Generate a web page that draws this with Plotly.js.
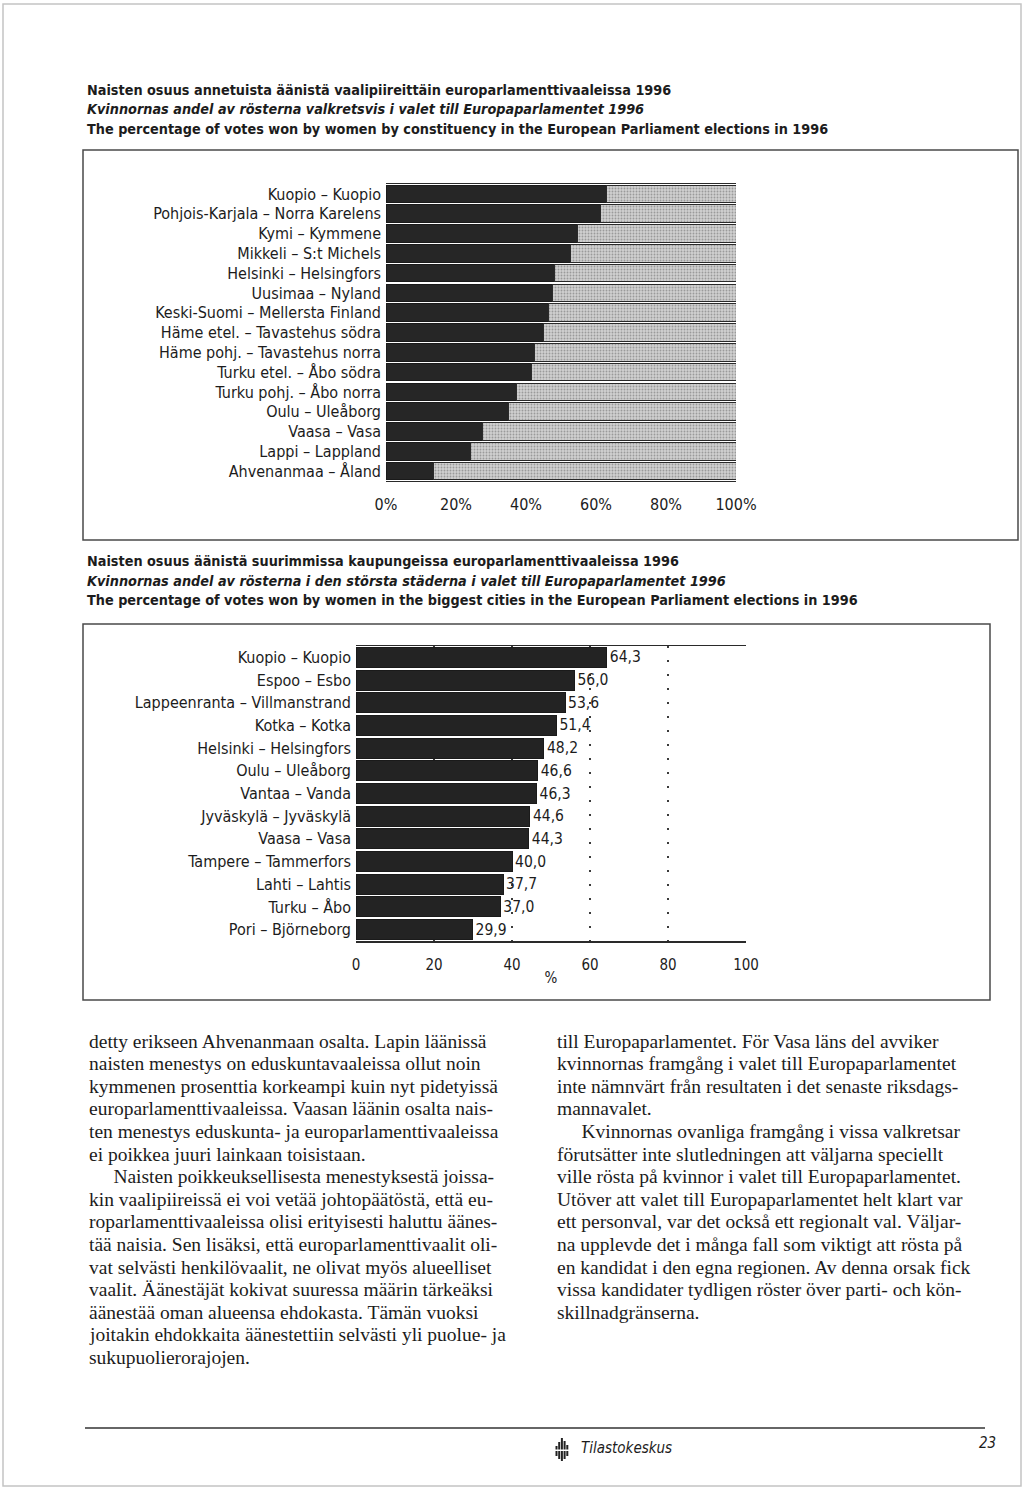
<!DOCTYPE html>
<html>
<head>
<meta charset="utf-8">
<script src="https://cdn.plot.ly/plotly-3.0.1.min.js"></script>
<style>
  html, body { margin: 0; padding: 0; background: #ffffff; }
  #chart { width: 1024px; height: 1489px; }
</style>
</head>
<body>
<div id="chart"></div>
<script>
// ---------------- DATA ----------------
const constituencies = [
  "Kuopio – Kuopio",
  "Pohjois-Karjala – Norra Karelens",
  "Kymi – Kymmene",
  "Mikkeli – S:t Michels",
  "Helsinki – Helsingfors",
  "Uusimaa – Nyland",
  "Keski-Suomi – Mellersta Finland",
  "Häme etel. – Tavastehus södra",
  "Häme pohj. – Tavastehus norra",
  "Turku etel. – Åbo södra",
  "Turku pohj. – Åbo norra",
  "Oulu – Uleåborg",
  "Vaasa – Vasa",
  "Lappi – Lappland",
  "Ahvenanmaa – Åland"
];
const constituencyShare = [62.9, 61.3, 54.8, 52.8, 48.2, 47.7, 46.4, 45.0, 42.4, 41.7, 37.2, 34.9, 27.6, 24.0, 13.6];
const totalShare = 100;

const cities = [
  "Kuopio – Kuopio",
  "Espoo – Esbo",
  "Lappeenranta – Villmanstrand",
  "Kotka – Kotka",
  "Helsinki – Helsingfors",
  "Oulu – Uleåborg",
  "Vantaa – Vanda",
  "Jyväskylä – Jyväskylä",
  "Vaasa – Vasa",
  "Tampere – Tammerfors",
  "Lahti – Lahtis",
  "Turku – Åbo",
  "Pori – Björneborg"
];
const cityShare = [64.3, 56.0, 53.6, 51.4, 48.2, 46.6, 46.3, 44.6, 44.3, 40.0, 37.7, 37.0, 29.9];

const pctTicks = [0, 20, 40, 60, 80, 100];
const pctTickText = ["0%", "20%", "40%", "60%", "80%", "100%"];
const numTickText = ["0", "20", "40", "60", "80", "100"];

const title1 = [
  "Naisten osuus annetuista äänistä vaalipiireittäin europarlamenttivaaleissa 1996",
  "Kvinnornas andel av rösterna valkretsvis i valet till Europaparlamentet 1996",
  "The percentage of votes won by women by constituency in the European Parliament elections in 1996"
];
const title2 = [
  "Naisten osuus äänistä suurimmissa kaupungeissa europarlamenttivaaleissa 1996",
  "Kvinnornas andel av rösterna i den största städerna i valet till Europaparlamentet 1996",
  "The percentage of votes won by women in the biggest cities in the European Parliament elections in 1996"
];

const leftColumn = [
  "detty erikseen Ahvenanmaan osalta. Lapin läänissä",
  "naisten menestys on eduskuntavaaleissa ollut noin",
  "kymmenen prosenttia korkeampi kuin nyt pidetyissä",
  "europarlamenttivaaleissa. Vaasan läänin osalta nais-",
  "ten menestys eduskunta- ja europarlamenttivaaleissa",
  "ei poikkea juuri lainkaan toisistaan.",
  "\u00a0\u00a0\u00a0\u00a0\u00a0Naisten poikkeuksellisesta menestyksestä joissa-",
  "kin vaalipiireissä ei voi vetää johtopäätöstä, että eu-",
  "roparlamenttivaaleissa olisi erityisesti haluttu äänes-",
  "tää naisia. Sen lisäksi, että europarlamenttivaalit oli-",
  "vat selvästi henkilövaalit, ne olivat myös alueelliset",
  "vaalit. Äänestäjät kokivat suuressa määrin tärkeäksi",
  "äänestää oman alueensa ehdokasta. Tämän vuoksi",
  "joitakin ehdokkaita äänestettiin selvästi yli puolue- ja",
  "sukupuolierorajojen."
];
const rightColumn = [
  "till Europaparlamentet. För Vasa läns del avviker",
  "kvinnornas framgång i valet till Europaparlamentet",
  "inte nämnvärt från resultaten i det senaste riksdags-",
  "mannavalet.",
  "\u00a0\u00a0\u00a0\u00a0\u00a0Kvinnornas ovanliga framgång i vissa valkretsar",
  "förutsätter inte slutledningen att väljarna speciellt",
  "ville rösta på kvinnor i valet till Europaparlamentet.",
  "Utöver att valet till Europaparlamentet helt klart var",
  "ett personval, var det också ett regionalt val. Väljar-",
  "na upplevde det i många fall som viktigt att rösta på",
  "en kandidat i den egna regionen. Av denna orsak fick",
  "vissa kandidater tydligen röster över parti- och kön-",
  "skillnadgränserna."
];

// ---------------- LAYOUT HELPERS ----------------
const W = 1024, H = 1489;
const X = px => px / W;
const Y = py => 1 - py / H;

const NARROW = "'Liberation Sans Narrow', 'DejaVu Sans Condensed', 'Arial Narrow', Roboto, sans-serif";
const SERIF = "'Liberation Serif', 'DejaVu Serif', serif";
const INK = "#1c1c1c";

const fmtComma = v => v.toFixed(1).replace(".", ",");

// ---------------- TRACES ----------------
const remainder = constituencyShare.map(v => +(totalShare - v).toFixed(1));

const traces = [
  {
    type: "bar", orientation: "h",
    y: constituencies, x: constituencyShare,
    xaxis: "x", yaxis: "y",
    marker: { color: "#262626", line: { color: "#1a1a1a", width: 1 } },
    hoverinfo: "skip", showlegend: false
  },
  {
    type: "bar", orientation: "h",
    y: constituencies, x: remainder,
    xaxis: "x", yaxis: "y",
    marker: {
      color: "#cfcfcf",
      line: { color: "#2a2a2a", width: 1 },
      pattern: { shape: ".", fgcolor: "#9a9a9a", bgcolor: "#d0d0d0", size: 3, solidity: 0.3 }
    },
    hoverinfo: "skip", showlegend: false
  },
  {
    type: "bar", orientation: "h",
    y: cities, x: cityShare,
    xaxis: "x2", yaxis: "y2",
    marker: { color: "#232323", line: { color: "#1a1a1a", width: 1 } },
    text: cityShare.map(fmtComma),
    textposition: "outside",
    cliponaxis: false,
    textfont: { family: NARROW, size: 15.5, color: INK },
    hoverinfo: "skip", showlegend: false
  }
];

// ---------------- ANNOTATIONS ----------------
const annotations = [];
function titleBlock(lines, y0) {
  lines.forEach((t, i) => {
    annotations.push({
      xref: "paper", yref: "paper", x: X(85), y: Y(y0 + i * 19.5),
      xanchor: "left", yanchor: "middle", showarrow: false, text: t,
      font: { family: NARROW, size: 14.3, color: INK, weight: "bold", style: i === 1 ? "italic" : "normal" }
    });
  });
}
titleBlock(title1, 90);
titleBlock(title2, 561);

function column(lines, x0) {
  lines.forEach((t, i) => {
    annotations.push({
      xref: "paper", yref: "paper", x: X(x0), y: Y(1041 + i * 22.6),
      xanchor: "left", yanchor: "middle", showarrow: false, text: t,
      font: { family: SERIF, size: 19.5, color: INK }
    });
  });
}
column(leftColumn, 87);
column(rightColumn, 555);

annotations.push({
  xref: "paper", yref: "paper", x: X(579), y: Y(1448),
  xanchor: "left", yanchor: "middle", showarrow: false, text: "Tilastokeskus",
  font: { family: NARROW, size: 15, color: INK, style: "italic" }
});
annotations.push({
  xref: "paper", yref: "paper", x: X(987), y: Y(1443),
  xanchor: "center", yanchor: "middle", showarrow: false, text: "23",
  font: { family: NARROW, size: 15, color: INK, style: "italic" }
});

// ---------------- SHAPES (frames, rule, logo) ----------------
const shapes = [
  { type: "rect", xref: "paper", yref: "paper", x0: X(3), x1: X(1021), y0: Y(4), y1: Y(1486),
    line: { color: "#c4c4c4", width: 1.5 } },
  { type: "rect", xref: "paper", yref: "paper", x0: X(83), x1: X(1018), y0: Y(150), y1: Y(540),
    line: { color: "#4a4a4a", width: 1.5 } },
  { type: "rect", xref: "paper", yref: "paper", x0: X(83), x1: X(990), y0: Y(624), y1: Y(1000),
    line: { color: "#4a4a4a", width: 1.5 } },
  { type: "line", xref: "paper", yref: "paper", x0: X(85), x1: X(985), y0: Y(1428), y1: Y(1428),
    line: { color: "#333333", width: 1.5 } }
];
const logoBars = [
  [555.5, 1446, 1456], [558.2, 1442, 1459], [560.9, 1438, 1461], [563.6, 1441, 1459], [566.3, 1445, 1456]
];
logoBars.forEach(([lx, top, bot]) => {
  shapes.push({ type: "rect", xref: "paper", yref: "paper", x0: X(lx), x1: X(lx + 2), y0: Y(top), y1: Y(1449.5),
    line: { width: 0 }, fillcolor: "#222" });
  shapes.push({ type: "rect", xref: "paper", yref: "paper", x0: X(lx), x1: X(lx + 2), y0: Y(1451), y1: Y(bot),
    line: { width: 0 }, fillcolor: "#222" });
});

// ---------------- LAYOUT ----------------
const layout = {
  width: W, height: H,
  margin: { l: 0, r: 0, t: 0, b: 0 },
  paper_bgcolor: "#ffffff",
  plot_bgcolor: "rgba(0,0,0,0)",
  barmode: "stack",
  bargap: 0.12,
  showlegend: false,
  font: { family: NARROW, color: INK },
  xaxis: {
    domain: [X(386), X(736)],
    range: [0, 100], fixedrange: true,
    tickmode: "array", tickvals: pctTicks, ticktext: pctTickText,
    showgrid: false, zeroline: false,
    showline: true, mirror: true, linecolor: "#2a2a2a", linewidth: 1,
    ticks: "", ticklabelstandoff: 9,
    tickfont: { family: NARROW, size: 16, color: INK },
    anchor: "y"
  },
  yaxis: {
    domain: [Y(481), Y(184)],
    type: "category", autorange: "reversed", fixedrange: true,
    showgrid: false, zeroline: false, showline: false,
    ticks: "", ticklabelstandoff: 4,
    tickfont: { family: NARROW, size: 16, color: INK },
    anchor: "x"
  },
  xaxis2: {
    domain: [X(356), X(746)],
    range: [0, 100], fixedrange: true,
    tickmode: "array", tickvals: pctTicks, ticktext: numTickText,
    showgrid: true, gridcolor: "#3a3a3a", gridwidth: 1.5, griddash: "2px,12px",
    zeroline: false,
    showline: true, mirror: true, linecolor: "#2a2a2a", linewidth: 1.5,
    ticks: "", ticklabelstandoff: 9,
    tickfont: { family: NARROW, size: 15, color: INK },
    title: { text: "%", font: { family: NARROW, size: 15, color: INK }, standoff: 0 },
    anchor: "y2"
  },
  yaxis2: {
    domain: [Y(941), Y(646)],
    type: "category", autorange: "reversed", fixedrange: true,
    showgrid: false, zeroline: false, showline: false,
    ticks: "", ticklabelstandoff: 4,
    tickfont: { family: NARROW, size: 16, color: INK },
    anchor: "x2"
  },
  annotations: annotations,
  shapes: shapes
};

Plotly.newPlot("chart", traces, layout, { staticPlot: true, displayModeBar: false });
</script>
</body>
</html>
